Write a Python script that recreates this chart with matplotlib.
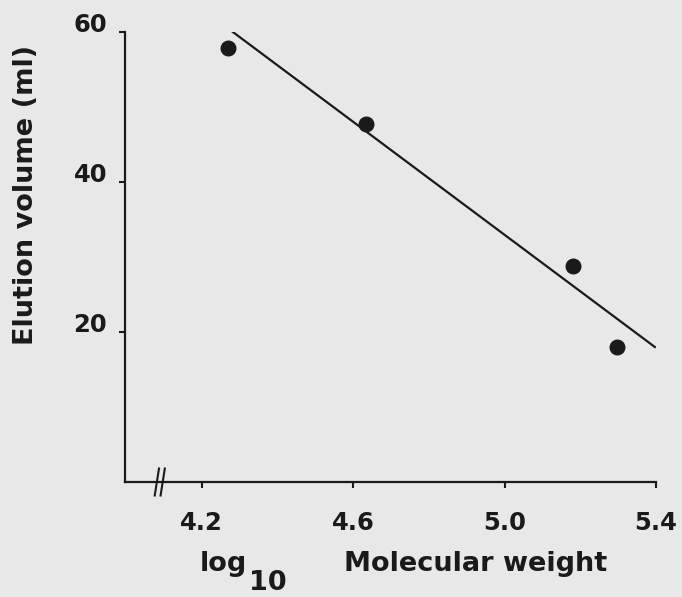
import matplotlib.pyplot as plt

# data
log_mw = [4.268, 4.634, 5.181, 5.297]
elution_ml = [57.9, 47.7, 28.8, 18.0]

fit_x = [4.282, 5.397]
fit_y = [60.0, 18.0]

x_ticks = [4.2, 4.6, 5.0, 5.4]
y_ticks = [20, 40, 60]

bg = '#e8e8e8'
ink = '#1a1a1a'
plt.rcParams['font.family'] = ['DejaVu Sans']
plt.rcParams['font.weight'] = 'bold'

W, H = 682, 597
fig = plt.figure(figsize=(W / 100, H / 100), dpi=100, facecolor=bg)
ax = fig.add_axes([125 / W, 1 - 482 / H, 531 / W, 450 / H])
ax.set_facecolor(bg)

ax.plot(fit_x, fit_y, color=ink, linewidth=1.6)
ax.scatter(log_mw, elution_ml, s=110, color=ink, zorder=3)

ax.set_xlim(3.997, 5.4)
ax.set_ylim(0, 60)
ax.set_xticks(x_ticks)
ax.set_xticklabels([f'{v:.1f}' for v in x_ticks])
ax.set_yticks(y_ticks)
ax.set_yticklabels([str(v) for v in y_ticks])

for s in ['top', 'right']:
    ax.spines[s].set_visible(False)
for s in ['left', 'bottom']:
    ax.spines[s].set_color(ink)
    ax.spines[s].set_linewidth(1.6)

ax.tick_params(axis='x', direction='out', length=4, width=1.5, color=ink,
               pad=17, labelsize=17.5, labelcolor=ink)
ax.tick_params(axis='y', direction='out', length=4, width=1.5, color=ink,
               pad=9, labelsize=17.5, labelcolor=ink)
for lab in ax.get_yticklabels():
    lab.set_verticalalignment('baseline')

# axis break marks
for xb in (0.060, 0.071):
    ax.plot([xb - 0.004, xb + 0.004], [-0.03, 0.03], transform=ax.transAxes,
            color=ink, linewidth=1.5, clip_on=False)

# axis titles
fig.text(26 / W, 1 - 195 / H, 'Elution volume (ml)', rotation=90,
         ha='center', va='center', fontsize=19.5, color=ink)
fig.text(223 / W, 1 - 571 / H, 'log', ha='center', va='baseline',
         fontsize=19.5, color=ink)
fig.text(268 / W, 1 - 590 / H, '10', ha='center', va='baseline',
         fontsize=19.5, color=ink)
fig.text(476 / W, 1 - 571 / H, 'Molecular weight', ha='center', va='baseline',
         fontsize=19.5, color=ink)

fig.savefig('out.png', dpi=100, facecolor=bg)
